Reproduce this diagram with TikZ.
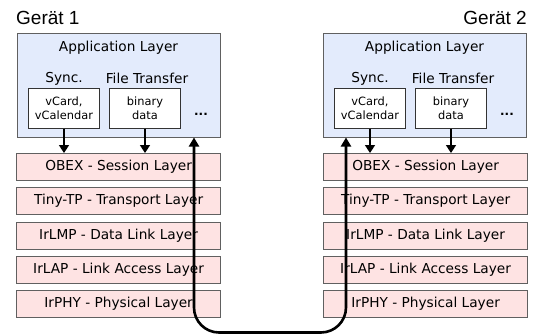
\documentclass[tikz,border=0pt]{standalone}
\usepackage{fontspec}
\setmainfont{DejaVu Sans}
\newfontfamily\titlefont{Liberation Sans}
\usetikzlibrary{arrows.meta}
\definecolor{appblue}{HTML}{E3EBFC}
\definecolor{layerpink}{HTML}{FEE3E3}
\definecolor{boxedge}{HTML}{606060}
\tikzset{
  x=1pt, y=1pt,
  appbox/.style={draw=boxedge, line width=1.2pt, fill=appblue, anchor=north west, minimum width=203pt, minimum height=104pt, inner sep=0pt},
  layerbox/.style={draw=boxedge, line width=1.2pt, fill=layerpink, anchor=north west, minimum width=204pt, minimum height=27pt, inner sep=0pt, font=\fontsize{13.7}{15}\selectfont},
  databox/.style={draw=black!80, line width=1pt, fill=white, anchor=north west, minimum width=71pt, minimum height=40pt, inner sep=0pt, align=center, font=\fontsize{11.4}{14}\selectfont},
  lbl/.style={font=\fontsize{13.7}{15}\selectfont, inner sep=0pt},
  devlbl/.style={font=\titlefont\fontsize{19}{21}\selectfont, inner sep=0pt},
  downarrow/.style={line width=1.6pt, -{Triangle[width=10pt,length=8pt]}},
  linkarrow/.style={line width=2.6pt, rounded corners=25pt, {Triangle[width=10pt,length=9pt]}-{Triangle[width=10pt,length=9pt]}}
}
\begin{document}
\begin{tikzpicture}
\useasboundingbox (0,0) rectangle (536,-335);
% device labels
\node[devlbl, anchor=west] (g1) at (16,-18) {Gerät 1};
\node[devlbl, anchor=east] (g2) at (527,-18) {Gerät 2};
% application boxes
\node[appbox] (appL) at (17,-33) {};
\node[appbox] (appR) at (323,-33) {};
\foreach \s/\x in {L/17, R/323} {
  \node[lbl] (title\s) at (\x+101.5,-48) {Application Layer};
  \node[lbl] (sync\s) at (\x+47,-78.5) {Sync.};
  \node[lbl] (ft\s) at (\x+130,-78.5) {File Transfer};
  \node[lbl, font=\fontsize{12}{13}\selectfont\bfseries] (dots\s) at (\x+184,-114) {...};
  \node[databox] (vc\s) at (\x+11,-87.5) {vCard,\\vCalendar};
  \node[databox] (bin\s) at (\x+92,-87.5) {binary\\data};
}
% layer boxes
\foreach \s/\x in {L/16, R/323} {
  \node[layerbox] (obex\s) at (\x,-153) {OBEX - Session Layer};
  \node[layerbox] (tiny\s) at (\x,-187) {Tiny-TP - Transport Layer};
  \node[layerbox] (irlmp\s) at (\x,-221.5) {IrLMP - Data Link Layer};
  \node[layerbox] (irlap\s) at (\x,-256) {IrLAP - Link Access Layer};
  \node[layerbox] (irphy\s) at (\x,-290) {IrPHY - Physical Layer};
}
% down arrows
\foreach \s in {L, R} {
  \draw[downarrow] (vc\s.south) -- (vc\s.south |- obex\s.north);
  \draw[downarrow] (bin\s.south) -- (bin\s.south |- obex\s.north);
}
% link
\coordinate (linkL) at (194,-137.5);
\coordinate (linkR) at (346,-137.5);
\coordinate (botL) at (194,-332.5);
\coordinate (botR) at (346,-332.5);
\draw[linkarrow] (linkL) -- (botL) -- (botR) -- (linkR);
\end{tikzpicture}
\end{document}
